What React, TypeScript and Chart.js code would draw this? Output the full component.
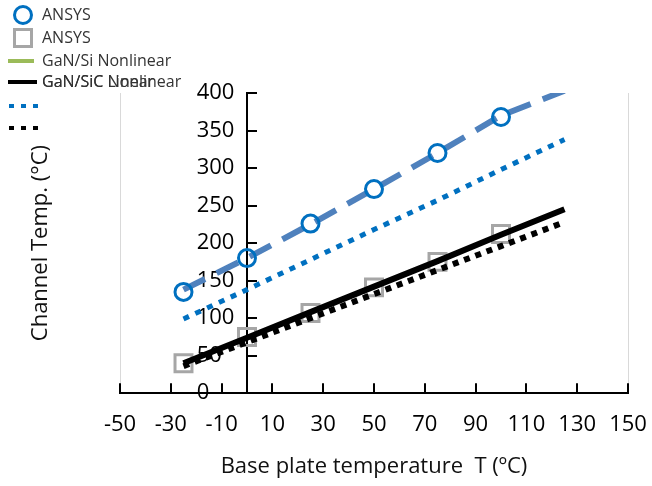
import React, { useEffect, useRef } from 'react';
import { Chart, registerables } from 'chart.js';

Chart.register(...registerables);

// ---- data ----
const lineX = [-25, 0, 25, 50, 75, 100, 125];
const ansysX = [-25, 0, 25, 50, 75, 100];
const ansysCircle = [135, 180, 226, 272, 320, 368];
const ansysSquare = [40, 75, 107, 141, 175, 212];
const gansiNonlinear = [138, 180, 225, 272, 320, 370, 403];
const gansiLinear = [99, 138, 178, 218, 257, 298, 338];
const gansicNonlinear = [40, 74, 108, 142, 176, 211, 245];
const gansicLinear = [36, 68, 100, 132, 164, 196, 228];
const xTicks = [-50, -30, -10, 10, 30, 50, 70, 90, 110, 130, 150];
const yTicks = [0, 50, 100, 150, 200, 250, 300, 350, 400];
const legendTexts = ['ANSYS', 'ANSYS', 'GaN/Si Nonlinear', 'GaN/SiC Nonlinear', 'GaN/SiC Linear', '', ''];

const FONT = "'Open Sans', 'Noto Sans', sans-serif";

const pts = (xs: number[], ys: number[]) => xs.map((x, i) => ({ x, y: ys[i] }));

const innerTicks = {
  id: 'innerTicks',
  beforeDatasetsDraw(chart: any) {
    const { ctx, scales } = chart;
    const x = scales.x;
    const y = scales.y;
    const y0 = y.getPixelForValue(0);
    const x0 = x.getPixelForValue(0);
    ctx.save();
    ctx.strokeStyle = '#000';
    ctx.lineWidth = 2;
    ctx.beginPath();
    x.ticks.forEach((t: any) => {
      const px = Math.round(x.getPixelForValue(t.value));
      ctx.moveTo(px, y0);
      ctx.lineTo(px, y0 - 10);
    });
    y.ticks.forEach((t: any) => {
      const py = Math.round(y.getPixelForValue(t.value));
      ctx.moveTo(x0, py);
      ctx.lineTo(x0 + 10, py);
    });
    ctx.stroke();
    ctx.restore();
  },
};

const customLegend = {
  id: 'customLegend',
  afterDraw(chart: any) {
    const ctx = chart.ctx;
    ctx.save();
    ctx.font = `16px ${FONT}`;
    ctx.fillStyle = '#333333';
    ctx.textBaseline = 'middle';
    ctx.textAlign = 'left';
    const tx = 42;
    // row 1: circle
    ctx.beginPath();
    ctx.strokeStyle = '#0070C0';
    ctx.lineWidth = 3;
    ctx.arc(23, 15, 8.5, 0, Math.PI * 2);
    ctx.stroke();
    ctx.fillText(legendTexts[0], tx, 15);
    // row 2: square
    ctx.strokeStyle = '#A6A6A6';
    ctx.strokeRect(14.5, 29.5, 17, 17);
    ctx.fillText(legendTexts[1], tx, 38);
    // row 3: green line
    ctx.beginPath();
    ctx.strokeStyle = '#9BBB59';
    ctx.lineWidth = 4;
    ctx.moveTo(8, 61);
    ctx.lineTo(34, 61);
    ctx.stroke();
    ctx.fillText(legendTexts[2], tx, 61);
    // row 4: black line, overlapping texts
    ctx.beginPath();
    ctx.strokeStyle = '#000';
    ctx.moveTo(8, 82);
    ctx.lineTo(37, 82);
    ctx.stroke();
    ctx.fillText(legendTexts[3], tx, 82);
    ctx.fillText(legendTexts[4], tx, 82);
    // row 5: blue dotted
    ctx.beginPath();
    ctx.setLineDash([5, 7]);
    ctx.strokeStyle = '#0070C0';
    ctx.lineWidth = 4;
    ctx.moveTo(9, 106);
    ctx.lineTo(38, 106);
    ctx.stroke();
    // row 6: black dotted
    ctx.beginPath();
    ctx.strokeStyle = '#000';
    ctx.moveTo(9, 128);
    ctx.lineTo(38, 128);
    ctx.stroke();
    ctx.restore();
  },
};

export default function App() {
  const ref = useRef<HTMLCanvasElement | null>(null);

  useEffect(() => {
    if (!ref.current) return;
    const tickFont = { family: FONT, size: 22 };
    const titleFont = { family: FONT, size: 22 };
    const chart = new Chart(ref.current, {
      type: 'line',
      data: {
        datasets: [
          {
            label: 'ANSYS',
            data: pts(ansysX, ansysCircle),
            showLine: false,
            pointStyle: 'circle',
            pointRadius: 8.5,
            pointBorderWidth: 3,
            pointBorderColor: '#0070C0',
            pointBackgroundColor: 'rgba(0,0,0,0)',
            order: 0,
          },
          {
            label: 'GaN/SiC Nonlinear',
            data: pts(lineX, gansicNonlinear),
            borderColor: '#000000',
            borderWidth: 6,
            pointRadius: 0,
            order: 1,
          },
          {
            label: 'GaN/SiC Linear',
            data: pts(lineX, gansicLinear),
            borderColor: '#000000',
            borderWidth: 6,
            borderDash: [6, 6],
            pointRadius: 0,
            order: 2,
          },
          {
            label: 'GaN/Si Nonlinear',
            data: pts(lineX, gansiNonlinear),
            borderColor: '#4F81BD',
            borderWidth: 6,
            borderDash: [24, 13],
            pointRadius: 0,
            order: 3,
          },
          {
            label: 'GaN/Si Linear',
            data: pts(lineX, gansiLinear),
            borderColor: '#0070C0',
            borderWidth: 5,
            borderDash: [6, 7],
            pointRadius: 0,
            order: 4,
          },
          {
            label: 'ANSYS',
            data: pts(ansysX, ansysSquare),
            showLine: false,
            pointStyle: 'rect',
            pointRadius: 12,
            pointBorderWidth: 3,
            pointBorderColor: '#A6A6A6',
            pointBackgroundColor: 'rgba(0,0,0,0)',
            order: 5,
          },
        ],
      },
      options: {
        responsive: false,
        animation: false,
        layout: { padding: { left: 0, right: 24, top: 93, bottom: 2 } },
        plugins: {
          legend: { display: false },
          tooltip: { enabled: false },
        },
        scales: {
          x: {
            type: 'linear',
            position: 'bottom',
            min: -50,
            max: 150,
            afterBuildTicks: (s: any) => {
              s.ticks = xTicks.map((v) => ({ value: v }));
            },
            grid: {
              drawTicks: true,
              tickLength: 15,
              tickColor: 'rgba(0,0,0,0)',
              color: (c: any) =>
                c.index === 0 || c.index === xTicks.length - 1 ? '#D9D9D9' : 'rgba(0,0,0,0)',
              lineWidth: 1,
            },
            border: { display: true, color: '#000', width: 2 },
            ticks: { font: tickFont, color: '#000', padding: 3, maxRotation: 0, autoSkip: false },
            title: {
              display: true,
              text: 'Base plate temperature  T (ºC)',
              font: titleFont,
              color: '#111',
              padding: { top: 13, bottom: 4 },
            },
          },
          y: {
            type: 'linear',
            position: { x: 0 },
            min: 0,
            max: 400,
            afterBuildTicks: (s: any) => {
              s.ticks = yTicks.map((v) => ({ value: v }));
            },
            grid: { display: false, drawTicks: false },
            border: { display: true, color: '#000', width: 2 },
            ticks: {
              font: tickFont,
              color: '#000',
              callback: (v: any) => String(v).padEnd(3, '\u2007') + '\u2007',
            },
          },
          yTitle: {
            type: 'linear',
            position: 'left',
            min: 0,
            max: 400,
            grid: { display: false, drawTicks: false },
            border: { display: false },
            ticks: { display: false },
            title: {
              display: true,
              text: 'Channel Temp. (°C)',
              font: titleFont,
              color: '#111',
              padding: { top: 28, bottom: 65.6 },
            },
          },
        },
      } as any,
      plugins: [innerTicks, customLegend],
    });
    return () => chart.destroy();
  }, []);

  return (
    <div style={{ position: 'absolute', left: 0, top: 0, width: 652, height: 486, background: '#fff' }}>
      <canvas ref={ref} width={652} height={486} style={{ display: 'block' }} />
    </div>
  );
}
